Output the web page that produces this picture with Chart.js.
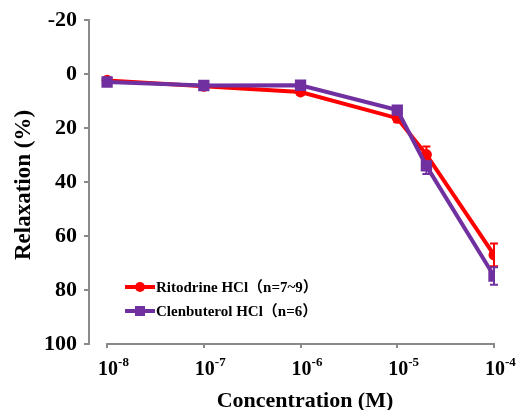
<!DOCTYPE html>
<html>
<head>
<meta charset="utf-8">
<script src="https://cdn.jsdelivr.net/npm/chart.js@4.4.0/dist/chart.umd.min.js"></script>
<style>
  html, body { margin: 0; padding: 0; background: #fff; }
  #wrap { width: 531px; height: 410px; }
</style>
</head>
<body>
<div id="wrap"><canvas id="grafico"></canvas></div>
<script>
// Concentrações (M) e respostas (%)
const concentrations = [1e-8, 1e-7, 1e-6, 1e-5, 2e-5, 1e-4];
const ritodrineMean = [2.3, 4.5, 6.6, 16.3, 29.8, 67.0];
const ritodrineSem = [0.6, 0.6, 1.0, 1.5, 3.0, 4.2];
const clenbuterolMean = [2.9, 4.2, 4.1, 13.3, 34.0, 74.8];
const clenbuterolSem = [0.6, 0.6, 0.8, 1.2, 3.0, 3.2];
const xTicks = [1e-8, 1e-7, 1e-6, 1e-5, 1e-4];
const yTicks = [-20, 0, 20, 40, 60, 80, 100];
const seriesNames = ['Ritodrine HCl（n=7~9）', 'Clenbuterol HCl（n=6）'];
const xTitle = 'Concentration (M)';
const yTitle = 'Relaxation (%)';

const serif = '"Liberation Serif", "Times New Roman", "Noto Sans CJK SC", serif';
const axisGrey = '#8a8a8a';
const red = '#ff0000';
const purple = '#7030a0';

function toPoints(means) {
    return concentrations.map((c, i) => ({ x: c, y: means[i] }));
}

// Barras de erro (SEM)
const errorBars = {
    id: 'errorBars',
    beforeDatasetsDraw(chart) {
        const { ctx, scales: { x, y } } = chart;
        ctx.save();
        chart.data.datasets.forEach((ds) => {
            ctx.strokeStyle = ds.borderColor;
            ctx.lineWidth = 2;
            ds.data.forEach((p, i) => {
                const px = x.getPixelForValue(p.x);
                const y1 = y.getPixelForValue(p.y - ds.sem[i]);
                const y2 = y.getPixelForValue(p.y + ds.sem[i]);
                ctx.beginPath();
                ctx.moveTo(px, y1); ctx.lineTo(px, y2);
                ctx.moveTo(px - 4, y1); ctx.lineTo(px + 4, y1);
                ctx.moveTo(px - 4, y2); ctx.lineTo(px + 4, y2);
                ctx.stroke();
            });
        });
        ctx.restore();
    }
};

// Eixo x, rótulos 10^n, títulos e legenda
const extras = {
    id: 'extras',
    afterDraw(chart) {
        const { ctx, chartArea, scales: { x } } = chart;
        ctx.save();
        // linha do eixo x (só entre 1e-8 e 1e-4)
        ctx.strokeStyle = axisGrey;
        ctx.lineWidth = 2;
        ctx.beginPath();
        ctx.moveTo(x.getPixelForValue(xTicks[0]) - 1, chartArea.bottom);
        ctx.lineTo(x.getPixelForValue(xTicks[xTicks.length - 1]) + 1, chartArea.bottom);
        ctx.stroke();

        ctx.fillStyle = '#000';
        ctx.textBaseline = 'alphabetic';
        ctx.textAlign = 'left';
        xTicks.forEach((v) => {
            const px = x.getPixelForValue(v);
            const base = '10';
            const exp = String(Math.round(Math.log10(v)));
            ctx.font = 'bold 20px ' + serif;
            const w = ctx.measureText(base).width;
            ctx.fillText(base, px - 9, 375);
            ctx.font = 'bold 13px ' + serif;
            ctx.fillText(exp, px - 9 + w, 366);
        });

        // títulos dos eixos
        ctx.font = 'bold 22px ' + serif;
        ctx.textAlign = 'center';
        ctx.fillText(xTitle, 305, 407);
        ctx.save();
        ctx.translate(30, 185);
        ctx.rotate(-Math.PI / 2);
        ctx.font = 'bold 23px ' + serif;
        ctx.fillText(yTitle, 0, 0);
        ctx.restore();

        // legenda
        ctx.textAlign = 'left';
        const items = [
            { name: seriesNames[0], color: red, style: 'circle' },
            { name: seriesNames[1], color: purple, style: 'rect' }
        ];
        items.forEach((it, i) => {
            const ly = 287 + i * 24;
            ctx.strokeStyle = it.color;
            ctx.fillStyle = it.color;
            ctx.lineWidth = 4;
            ctx.beginPath();
            ctx.moveTo(125, ly); ctx.lineTo(155, ly);
            ctx.stroke();
            if (it.style === 'circle') {
                ctx.beginPath();
                ctx.arc(140, ly, 5, 0, Math.PI * 2);
                ctx.fill();
            } else {
                ctx.fillRect(135, ly - 5, 10, 10);
            }
            ctx.fillStyle = '#000';
            ctx.font = 'bold 15px ' + serif;
            ctx.textBaseline = 'middle';
            ctx.fillText(it.name, 156, ly + 1);
        });
        ctx.restore();
    }
};

const ctx = document.getElementById('grafico').getContext('2d');

const grafico = new Chart(ctx, {
    type: 'line',
    data: {
        datasets: [
            {
                label: seriesNames[0],
                data: toPoints(ritodrineMean),
                sem: ritodrineSem,
                borderColor: red,
                backgroundColor: red,
                borderWidth: 4,
                pointStyle: 'circle',
                pointRadius: 5.5,
                pointBorderWidth: 0,
                fill: false,
                order: 2
            },
            {
                label: seriesNames[1],
                data: toPoints(clenbuterolMean),
                sem: clenbuterolSem,
                borderColor: purple,
                backgroundColor: purple,
                borderWidth: 4,
                pointStyle: 'rect',
                pointRadius: 8,
                pointBorderWidth: 0,
                fill: false,
                order: 1
            }
        ]
    },
    options: {
        responsive: true,
        maintainAspectRatio: false,
        animation: false,
        layout: { padding: { top: 18, right: 37, left: 0, bottom: 0 } },
        plugins: {
            legend: { display: false },
            tooltip: { enabled: false }
        },
        scales: {
            x: {
                type: 'logarithmic',
                min: 6.5e-9,
                max: 1e-4,
                afterBuildTicks: (s) => { s.ticks = xTicks.map((v) => ({ value: v })); },
                afterFit: (s) => { s.height = 66; },
                ticks: { display: false },
                grid: { display: true, drawOnChartArea: false, drawTicks: true, tickLength: 4, color: axisGrey, lineWidth: 2 },
                border: { display: false }
            },
            y: {
                reverse: true,
                min: -20,
                max: 100,
                afterBuildTicks: (s) => { s.ticks = yTicks.map((v) => ({ value: v })); },
                afterFit: (s) => { s.width = 89; },
                ticks: { color: '#000', padding: 7, font: { family: serif, size: 22, weight: 'bold' } },
                grid: { drawOnChartArea: false, tickLength: 5, color: axisGrey, lineWidth: 2 },
                border: { color: axisGrey, width: 2 }
            }
        }
    },
    plugins: [errorBars, extras]
});
</script>
</body>
</html>
